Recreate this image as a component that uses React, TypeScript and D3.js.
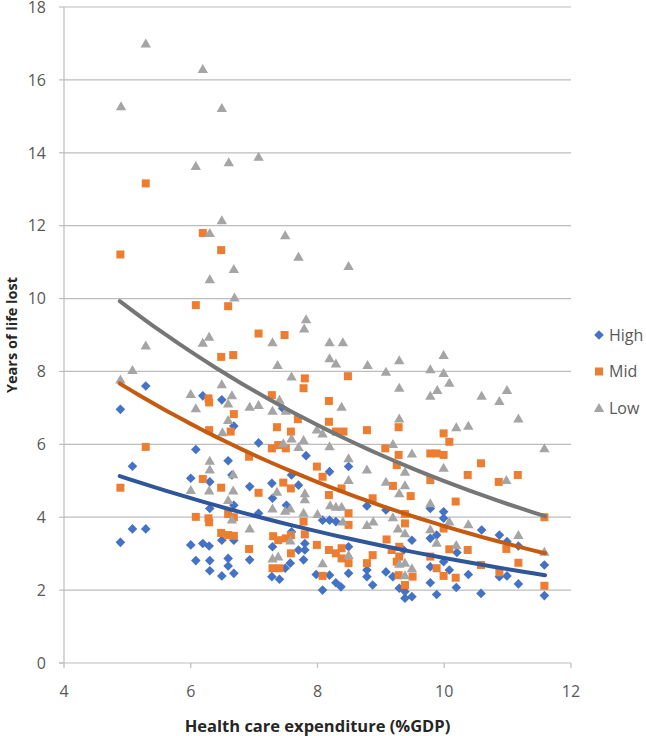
import React from 'react';
import * as d3 from 'd3';

// [health expenditure %GDP, years of life lost]
const high: [number, number][] = [
  [4.89, 6.96], [4.89, 3.31], [5.29, 7.6], [5.08, 5.4], [5.08, 3.68], [5.29, 3.68],
  [6.19, 7.33], [6.49, 7.22], [6.68, 6.5], [7.07, 6.04], [6.08, 5.86], [6.59, 5.55], [6.0, 5.07],
  [6.3, 4.97], [6.65, 5.16], [6.93, 4.84], [6.68, 4.33], [6.3, 4.24], [7.07, 4.11], [6.49, 3.37],
  [6.68, 3.37], [6.0, 3.24], [6.19, 3.28], [6.29, 3.21], [6.08, 2.81], [6.3, 2.81], [6.59, 2.87],
  [6.93, 2.83], [6.59, 2.66], [6.3, 2.53], [6.49, 2.39], [6.68, 2.46],
  [7.45, 6.99], [7.82, 5.69], [8.19, 5.25], [8.49, 5.39], [7.59, 5.16], [7.28, 4.93], [7.7, 4.88],
  [8.78, 4.31], [7.29, 4.52], [7.51, 4.33], [8.08, 3.92], [8.19, 3.92], [8.29, 3.88], [9.08, 4.2],
  [7.59, 3.6], [7.29, 3.19], [7.8, 3.28], [7.8, 3.1], [8.49, 3.19], [7.7, 3.1], [7.78, 2.83],
  [7.57, 2.74], [7.49, 2.6], [7.28, 2.37], [7.4, 2.3], [7.98, 2.43], [8.19, 2.41], [8.08, 2.0],
  [8.29, 2.2], [8.37, 2.09], [8.49, 2.46], [8.78, 2.55], [8.78, 2.37], [8.87, 2.14], [9.08, 2.5],
  [9.19, 2.37], [9.29, 2.05], [9.38, 1.78], [9.49, 1.82], [9.38, 1.96], [9.49, 3.37], [9.36, 3.1],
  [9.78, 4.24], [9.99, 4.15], [9.99, 3.97], [10.59, 3.65], [10.87, 3.51], [9.78, 3.42], [9.88, 3.51],
  [10.99, 3.33], [11.17, 3.21], [10.2, 3.03], [9.99, 2.78], [9.78, 2.64], [10.08, 2.55], [10.38, 2.43],
  [10.87, 2.37], [10.99, 2.39], [11.58, 2.69], [9.78, 2.2], [10.19, 2.07], [11.17, 2.17], [9.88, 1.88],
  [10.58, 1.91], [11.58, 1.85],
];

const mid: [number, number][] = [
  [5.29, 13.16], [6.19, 11.8], [4.89, 11.21], [6.48, 11.33], [6.08, 9.82], [6.59, 9.79], [7.07, 9.04],
  [6.48, 8.4], [6.67, 8.45], [6.28, 7.26], [6.29, 7.15], [6.68, 6.83], [6.29, 6.39], [6.63, 6.35],
  [5.29, 5.93], [6.92, 5.66], [6.19, 5.05], [4.89, 4.81], [6.48, 4.81], [7.07, 4.67], [6.59, 4.09],
  [6.68, 4.0], [6.08, 4.01], [6.28, 3.97], [6.29, 3.86], [6.48, 3.57], [6.59, 3.51], [6.68, 3.49],
  [6.92, 3.13],
  [7.48, 9.0], [7.8, 7.81], [8.48, 7.87], [7.78, 7.54], [7.28, 7.35], [8.18, 7.19], [7.69, 6.69],
  [8.18, 6.62], [7.36, 6.47], [7.58, 6.35], [8.29, 6.35], [8.41, 6.35], [8.78, 6.39], [9.28, 6.47],
  [7.28, 5.89], [7.38, 5.98], [7.5, 5.89], [9.07, 5.89], [7.99, 5.39], [9.28, 5.71], [9.25, 5.43],
  [8.08, 5.11], [7.46, 4.95], [7.58, 4.79], [8.18, 4.61], [8.38, 4.79], [9.19, 4.86], [9.47, 4.58],
  [8.87, 4.52], [7.78, 3.88], [8.49, 4.11], [8.49, 3.79], [9.38, 4.09], [9.38, 3.83], [7.3, 3.48],
  [7.38, 3.37], [7.5, 3.42], [7.58, 3.51], [7.8, 3.53], [7.99, 3.24], [8.18, 3.1], [8.29, 3.01],
  [8.38, 2.87], [8.38, 3.15], [8.49, 2.74], [7.58, 3.01], [7.29, 2.6], [7.4, 2.6], [8.08, 2.39],
  [8.78, 2.74], [8.87, 2.96], [9.09, 3.39], [9.17, 3.1], [9.28, 2.41], [9.29, 2.92], [9.38, 2.14],
  [9.5, 2.37], [9.25, 2.78], [9.29, 3.19],
  [10.08, 6.07], [9.99, 6.3], [9.78, 5.75], [9.88, 5.75], [9.99, 5.71], [10.58, 5.48], [10.37, 5.16],
  [11.16, 5.16], [10.86, 4.97], [9.78, 5.02], [10.18, 4.43], [11.58, 4.0], [9.99, 3.69], [10.08, 3.12],
  [10.37, 3.1], [10.98, 3.13], [9.78, 2.92], [9.88, 2.6], [9.99, 2.39], [10.18, 2.34], [10.58, 2.69],
  [11.17, 2.75], [10.87, 2.49], [11.58, 2.12],
];

const low: [number, number][] = [
  [5.29, 17.0], [6.19, 16.3], [4.9, 15.28], [6.49, 15.23], [6.08, 13.64], [6.6, 13.74], [7.07, 13.89],
  [6.49, 12.15], [6.3, 11.8], [6.68, 10.81], [6.3, 10.53], [6.69, 10.03], [5.29, 8.71], [6.19, 8.79],
  [6.29, 8.95], [5.08, 8.04], [4.89, 7.78], [6.0, 7.38], [6.49, 7.65], [6.65, 7.35], [6.59, 7.12],
  [6.08, 6.99], [6.93, 7.03], [7.07, 7.08], [6.59, 6.67], [6.5, 6.33], [6.3, 5.55], [6.3, 5.31],
  [6.67, 5.18], [6.0, 4.75], [6.29, 4.73], [6.67, 4.73], [6.59, 4.47], [6.65, 3.94], [6.93, 3.69],
  [7.49, 11.74], [7.7, 11.15], [8.49, 10.89], [7.82, 9.43], [7.79, 9.18], [7.29, 8.8], [8.19, 8.8],
  [8.4, 8.8], [8.19, 8.36], [8.29, 8.22], [7.37, 8.18], [8.79, 8.18], [9.29, 8.31], [9.08, 7.99],
  [7.59, 7.86], [9.29, 7.55], [7.4, 7.22], [8.38, 7.03], [7.29, 6.92], [7.5, 6.92], [9.29, 6.71],
  [7.99, 6.41], [8.08, 6.3], [7.59, 6.16], [7.78, 6.12], [7.46, 6.03], [7.7, 5.93], [8.19, 5.95],
  [9.19, 6.01], [8.49, 5.62], [9.49, 5.75], [8.78, 5.31], [9.38, 5.25], [7.36, 4.7], [7.8, 4.66],
  [7.8, 4.49], [8.49, 5.02], [9.08, 4.97], [9.38, 4.88], [9.29, 4.66], [7.29, 4.24], [7.57, 4.24],
  [7.49, 4.18], [7.78, 4.12], [8.2, 4.33], [8.29, 4.29], [8.38, 4.29], [8.0, 4.09], [8.4, 3.88],
  [8.78, 3.79], [8.88, 3.88], [9.19, 4.0], [9.27, 3.69], [9.38, 3.56], [7.57, 3.36], [7.29, 2.87],
  [7.38, 2.92], [8.08, 2.74], [8.49, 2.96], [9.29, 2.72], [9.38, 2.75], [9.49, 2.6], [9.38, 2.41],
  [9.99, 8.45], [9.78, 8.06], [9.99, 7.96], [10.08, 7.69], [9.89, 7.49], [9.78, 7.33], [10.59, 7.33],
  [10.99, 7.49], [10.87, 7.19], [11.17, 6.71], [10.19, 6.47], [10.38, 6.51], [11.58, 5.89], [9.99, 5.36],
  [10.98, 5.02], [9.78, 4.38], [10.08, 3.88], [10.38, 3.81], [9.78, 3.67], [11.17, 3.51], [9.88, 3.3],
  [10.19, 3.24], [11.58, 3.05],
];

// exponential trendlines, read at their two ends
const trendX = [4.88, 11.59];
const trendHigh = [5.13, 2.41];
const trendMid = [7.67, 3.01];
const trendLow = [9.93, 4.03];

const xTicks = [4, 6, 8, 10, 12];
const yTicks = [0, 2, 4, 6, 8, 10, 12, 14, 16, 18];

const series = [
  { name: 'High', data: high, trend: trendHigh, color: '#4472C4', trendColor: '#2F559A', shape: 'diamond' },
  { name: 'Mid', data: mid, trend: trendMid, color: '#ED7D31', trendColor: '#C55A11', shape: 'square' },
  { name: 'Low', data: low, trend: trendLow, color: '#A5A5A5', trendColor: '#767676', shape: 'triangle' },
];

const W = 646, H = 736;
const left = 64, right = 571, top = 7, bottom = 663;
const font = '"Open Sans", sans-serif';

const shapePath = (shape: string) => {
  if (shape === 'diamond') return 'M0,-4.8L4.8,0L0,4.8L-4.8,0Z';
  if (shape === 'square') return 'M-4,-4H4V4H-4Z';
  return 'M0,-5L5.2,4L-5.2,4Z';
};

export default function App() {
  const x = d3.scaleLinear().domain([4, 12]).range([left, right]);
  const y = d3.scaleLinear().domain([0, 18]).range([bottom, top]);
  const line = d3.line<number[]>().x(d => x(d[0])).y(d => y(d[1]));

  // y = a * exp(b x) through the two read ends
  const trendPath = (ends: number[]) => {
    const b = Math.log(ends[1] / ends[0]) / (trendX[1] - trendX[0]);
    const a = ends[0] / Math.exp(b * trendX[0]);
    const xs = d3.scaleLinear().domain(trendX).ticks(40);
    const pts = [trendX[0], ...xs.filter(v => v > trendX[0] && v < trendX[1]), trendX[1]].map(v => [v, a * Math.exp(b * v)]);
    return line(pts) || '';
  };

  return (
    <svg width={W} height={H} style={{ position: 'absolute', left: 0, top: 0, background: '#fff' }}>
      {/* gridlines */}
      {yTicks.filter(t => t > 0).map(t => (
        <line key={t} x1={left} x2={right} y1={y(t)} y2={y(t)} stroke="#BDBDBD" strokeWidth={1.2} />
      ))}
      {/* axes */}
      <line x1={left} x2={left} y1={top} y2={bottom} stroke="#BDBDBD" strokeWidth={1.2} />
      <line x1={left - 5} x2={right} y1={bottom} y2={bottom} stroke="#BDBDBD" strokeWidth={1.2} />
      {yTicks.map(t => (
        <g key={t}>
          <line x1={left - 5} x2={left} y1={y(t)} y2={y(t)} stroke="#BDBDBD" strokeWidth={1.2} />
          <text x={46} y={y(t)} dy="0.36em" textAnchor="end" fontFamily={font} fontSize={16} fill="#595959">{t}</text>
        </g>
      ))}
      {xTicks.map(t => (
        <g key={t}>
          <line x1={x(t)} x2={x(t)} y1={bottom} y2={bottom + 5} stroke="#BDBDBD" strokeWidth={1.2} />
          <text x={x(t)} y={bottom + 34} textAnchor="middle" fontFamily={font} fontSize={16} fill="#595959">{t}</text>
        </g>
      ))}
      <text x={(left + right) / 2} y={732} textAnchor="middle" fontFamily={font} fontSize={16.5} fontWeight="bold" fill="#262626">
        Health care expenditure (%GDP)
      </text>
      <text transform={`translate(17,${(top + bottom) / 2}) rotate(-90)`} textAnchor="middle" fontFamily={font} fontSize={14.5} fontWeight="bold" fill="#262626">
        Years of life lost
      </text>

      {/* points */}
      {series.map(s => (
        <g key={s.name} fill={s.color}>
          {s.data.map((d, i) => (
            <path key={i} d={shapePath(s.shape)} transform={`translate(${x(d[0])},${y(d[1])})`} />
          ))}
        </g>
      ))}

      {/* trend lines */}
      {series.map(s => (
        <path key={s.name} d={trendPath(s.trend)} fill="none" stroke={s.trendColor} strokeWidth={4} strokeLinecap="round" />
      ))}

      {/* legend */}
      {series.map((s, i) => (
        <g key={s.name} transform={`translate(599,${335 + i * 36.5})`}>
          <path d={shapePath(s.shape)} fill={s.color} />
          <text x={10} dy="0.36em" fontFamily={font} fontSize={16} fill="#595959">{s.name}</text>
        </g>
      ))}
    </svg>
  );
}
